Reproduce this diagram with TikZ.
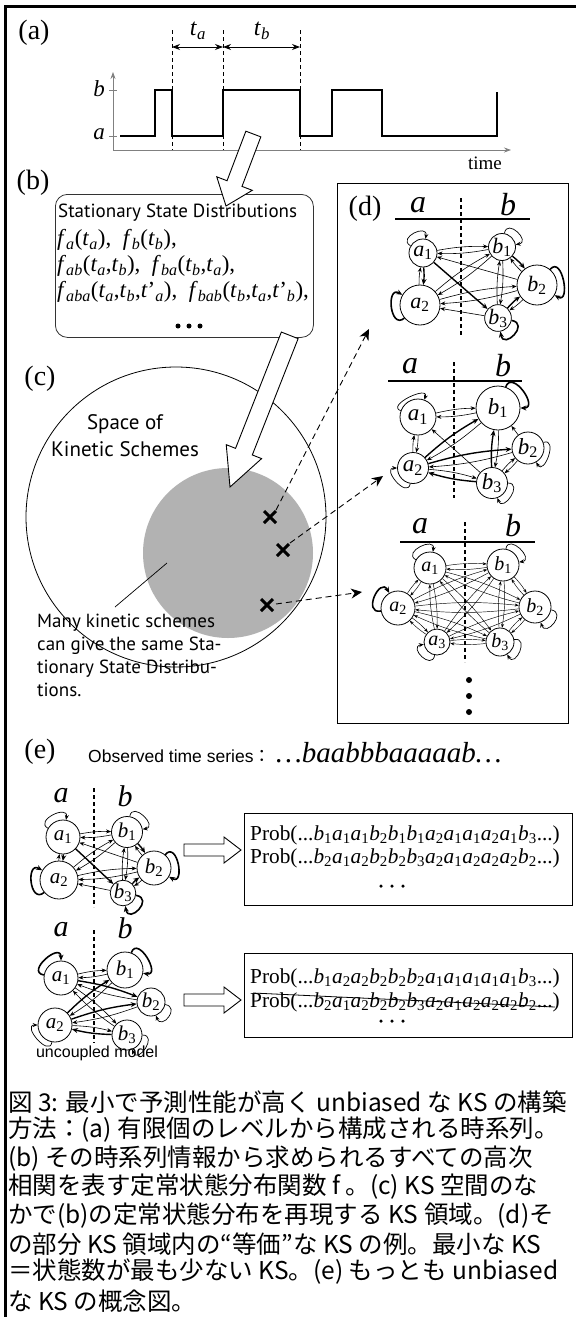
\documentclass[tikz,border=0pt]{standalone}
\usepackage{fontspec}
\setmainfont{Liberation Serif}
\newfontfamily\myr{PT Sans}
\newfontfamily\arial{Liberation Sans}
\newfontfamily\cjk{Noto Sans CJK JP}
\usetikzlibrary{arrows.meta}
\newcommand\fs[1]{\fontsize{#1}{#1}\selectfont}
\newcommand\Sn[2]{\textit{#1}\textsubscript{#2}}
\newcommand\Si[2]{\textit{#1}\textsubscript{\textit{#2}}}
\newcommand\Pair[4]{\draw[#3] (#1) to[bend left=6] (#2); \draw[#4] (#2) to[bend left=6] (#1);}
\newcommand\Barrow[7]{\begin{scope}[shift={(#1,#2)},rotate=#3]
 \draw[blk] (0,0) -- (-#7,#6) -- (-#7,#5) -- (-#4,#5) -- (-#4,-#5) -- (-#7,-#5) -- (-#7,-#6) -- cycle;
 \end{scope}}
\tikzset{
 st/.style={circle,draw,fill=white,inner sep=0pt,line width=0.8pt},
 ea/.style={-{Stealth[length=5pt,width=4pt]},line width=0.6pt},
 eb/.style={-{Stealth[length=6pt,width=5pt]},line width=1.4pt},
 ec/.style={-{Stealth[length=4pt,width=3pt]},line width=0.45pt},
 lp/.style={-{Stealth[length=5pt,width=4pt]},line width=0.7pt,min distance=16pt},
 lpb/.style={-{Stealth[length=6pt,width=5pt]},line width=1.6pt,min distance=19pt},
 dv/.style={line width=1.8pt,dash pattern=on 4pt off 3pt},
 ul/.style={line width=2.4pt},
 xm/.style={line width=3pt},
 da/.style={line width=0.9pt,dash pattern=on 6pt off 4pt,-{Stealth[length=11pt,width=10pt]}},
 blk/.style={draw,fill=white,line width=0.9pt,line join=miter},
 axis/.style={gray,line width=0.8pt,-{Stealth[length=7pt,width=5pt]}},
 dotn/.style={circle,fill,inner sep=0pt,minimum size=#1},
 lbl/.style={font=\fs{28}},
 captxt/.style={anchor=west,inner sep=0pt,font=\cjk\fs{24.5}},
 probtxt/.style={anchor=west,inner sep=0pt,font=\fs{21.3}},
}
\newcommand\NetOneEdges[1]{%
 \Pair{#1A1}{#1B1}{ea}{ea}
 \Pair{#1A1}{#1A2}{eb}{ea}
 \Pair{#1A2}{#1B1}{ea}{ea}
 \Pair{#1A2}{#1B2}{ea}{ea}
 \Pair{#1B1}{#1B3}{ea}{ea}
 \Pair{#1B1}{#1B2}{eb}{ea}
 \Pair{#1B2}{#1B3}{ea}{eb}
 \draw[eb] (#1A1) -- (#1B3);
 \draw[ea] (#1B2) -- (#1A1);
 \draw[ea] (#1B3) -- (#1A2);
 \draw[lp] (#1A1) to[out=150,in=80] (#1A1);
 \draw[lp] (#1B1) to[out=80,in=10] (#1B1);
 \draw[lpb] (#1B2) to[out=50,in=-30] (#1B2);
 \draw[lpb] (#1A2) to[out=-140,in=150] (#1A2);
 \draw[lpb] (#1B3) to[out=-10,in=-80] (#1B3);
}
\begin{document}
\begin{tikzpicture}[x=1pt,y=-1pt]
\useasboundingbox (0,0) rectangle (576,1317);
\fill[white] (0,0) rectangle (576,1317);
\draw[line width=3pt] (5,1317) -- (5,6) -- (576,6);

% ---------- (a)
\node[lbl] (la) at (34,33) {(a)};
\coordinate (o) at (113,150);
\coordinate (yt) at (113,72);
\coordinate (xt) at (511,150);
\draw[axis] (o) -- (yt);
\draw[axis] (o) -- (xt);
\draw[gray,line width=0.8pt] (109,90) -- (117,90) (109,136) -- (117,136);
\node[font=\fs{23}\itshape] (lvb) at (99,89) {b};
\node[font=\fs{23}\itshape] (lva) at (99,134) {a};
\node[font=\fs{19}] (ltime) at (485,163) {time};
\draw[line width=2.2pt] (120,136) -| (155,90) -| (172,136) -| (223,90) -| (300,136) -| (332,90) -| (382,136) -| (497,92);
\foreach \x in {172,223,300} \draw[line width=0.7pt,dash pattern=on 4pt off 3pt] (\x,30) -- (\x,150);
\coordinate (ta1) at (172,47); \coordinate (ta2) at (223,47); \coordinate (tb2) at (300,47);
\draw[{Stealth[length=8pt,width=6pt]}-{Stealth[length=8pt,width=6pt]},line width=1pt] (ta1) -- (ta2);
\draw[{Stealth[length=8pt,width=6pt]}-{Stealth[length=8pt,width=6pt]},line width=1pt] (ta2) -- (tb2);
\node[font=\fs{24}] (lta) at (198,31) {\Si ta};
\node[font=\fs{24}] (ltb) at (262,31) {\Si tb};

% ---------- (b)
\node[lbl] (lbb) at (33,183) {(b)};
\node[draw=black!80,line width=0.8pt,rounded corners=12pt,minimum width=258,minimum height=143,anchor=north west] (bbox) at (55,194) {};
\node[anchor=west,inner sep=0pt,font=\myr\fs{19}] (ssd) at (58,213) {Stationary State Distributions};
\begin{scope}[every node/.style={anchor=west,inner sep=0pt,font=\fs{23}}]
\node (f1) at (57,240) {\Si fa(\Si ta), \ \Si fb(\Si tb),};
\node (f2) at (57,266) {\Si f{ab}(\Si ta,\Si tb), \ \Si f{ba}(\Si tb,\Si ta),};
\node (f3) at (57,292) {\Si f{aba}(\Si ta,\Si tb,\textit{t}'\textsubscript{\textit{a}}), \ \Si f{bab}(\Si tb,\Si ta,\textit{t}'\textsubscript{\textit{b}}),};
\end{scope}
\foreach \x in {178,189,200} \node[dotn=5pt] at (\x,326) {};
\Barrow{226}{206}{249.2}{77}{8}{19}{24}

% ---------- (c)
\node[lbl] (lc) at (40,379) {(c)};
\draw[line width=0.8pt] (176,517) circle[radius=150];
\fill[black!30] (228,553) circle[radius=85];
\Barrow{230}{487}{248.5}{163}{9}{19}{38}
\node[align=center,font=\myr\fs{21},inner sep=0pt] (space) at (125,436) {Space of\\[6pt]Kinetic Schemes};
\node[align=left,anchor=north west,inner sep=0pt,font=\myr\fs{19}] (many) at (37,614) {Many kinetic schemes\\[4pt]can give the same Sta-\\[4pt]tionary State Distribu-\\[4pt]tions.};
\draw[line width=0.7pt] (167,563) -- (115,607);
\draw[xm] (264,511) -- (276,523) (264,523) -- (276,511);
\draw[xm] (277,544) -- (289,556) (277,556) -- (289,544);
\draw[xm] (261,599) -- (273,611) (261,611) -- (273,599);
\coordinate (s1) at (276,510); \coordinate (t1) at (369,329);
\coordinate (s2) at (290,543); \coordinate (t2) at (383,476);
\coordinate (s3) at (276,604); \coordinate (t3) at (362,592);
\draw[da] (s1) -- (t1);
\draw[da] (s2) -- (t2);
\draw[da] (s3) -- (t3);

% ---------- (d)
\node[draw,line width=1.2pt,minimum width=231,minimum height=540,anchor=north west] (dbox) at (337,183) {};
\node[lbl] (ld) at (365,209) {(d)};
% net 1
\node[font=\fs{32}\itshape] (d1a) at (418,205) {a};
\node[font=\fs{32}\itshape] (d1b) at (508,205) {b};
\draw[ul] (395,219) -- (530,219);
\draw[dv] (461,198) -- (461,335);
\begin{scope}[every node/.append style={font=\fs{22}}]
\node[st,minimum size=28] (d1A1) at (423,253) {\Sn a1};
\node[st,minimum size=27] (d1B1) at (502,247) {\Sn b1};
\node[st,minimum size=40] (d1B2) at (537,285) {\Sn b2};
\node[st,minimum size=40] (d1A2) at (420,305) {\Sn a2};
\node[st,minimum size=25] (d1B3) at (498,318) {\Sn b3};
\end{scope}
\NetOneEdges{d1}
% net 2
\node[font=\fs{32}\itshape] (d2a) at (410,366) {a};
\node[font=\fs{32}\itshape] (d2b) at (503,366) {b};
\draw[ul] (388,381) -- (522,381);
\draw[dv] (454,362) -- (454,498);
\begin{scope}[every node/.append style={font=\fs{23}}]
\node[st,minimum size=36] (d2A1) at (418,417) {\Sn a1};
\node[st,minimum size=44] (d2B1) at (498,408) {\Sn b1};
\node[st,minimum size=32] (d2B2) at (528,448) {\Sn b2};
\node[st,minimum size=31] (d2A2) at (413,468) {\Sn a2};
\node[st,minimum size=31] (d2B3) at (492,483) {\Sn b3};
\end{scope}
\Pair{d2A1}{d2B1}{ea}{ea}
\Pair{d2A1}{d2A2}{ea}{ea}
\draw[ea] (d2B3) -- (d2A1);
\Pair{d2A2}{d2B1}{eb}{ea}
\Pair{d2A2}{d2B2}{eb}{ea}
\Pair{d2A2}{d2B3}{ea}{eb}
\Pair{d2B1}{d2B3}{ea}{eb}
\draw[ea] (d2B2) -- (d2B1);
\Pair{d2B2}{d2B3}{ea}{ea}
\draw[lp] (d2A1) to[out=160,in=70] (d2A1);
\draw[lpb] (d2B1) to[out=70,in=0] (d2B1);
\draw[lp] (d2B2) to[out=20,in=-60] (d2B2);
\draw[lp] (d2A2) to[out=-100,in=180] (d2A2);
\draw[lp] (d2B3) to[out=0,in=-70] (d2B3);
% net 3
\node[font=\fs{32}\itshape] (d3a) at (420,526) {a};
\node[font=\fs{32}\itshape] (d3b) at (513,526) {b};
\draw[ul] (400,542) -- (535,542);
\draw[dv] (465,522) -- (465,662);
\begin{scope}[every node/.append style={font=\fs{20}}]
\node[st,minimum size=32] (d3A1) at (430,568) {\Sn a1};
\node[st,minimum size=32] (d3B1) at (503,565) {\Sn b1};
\node[st,minimum size=34] (d3A2) at (398,608) {\Sn a2};
\node[st,minimum size=32] (d3B2) at (535,607) {\Sn b2};
\node[st,minimum size=26] (d3A3) at (437,642) {\Sn a3};
\node[st,minimum size=28] (d3B3) at (500,642) {\Sn b3};
\end{scope}
\foreach \u/\v in {A1/B1,A1/A2,A1/B2,A1/A3,A1/B3,B1/A2,B1/B2,B1/A3,B1/B3,A2/B2,A2/A3,A2/B3,B2/A3,B2/B3,A3/B3} {\Pair{d3\u}{d3\v}{ec}{ec}}
\draw[lp] (d3A1) to[out=150,in=80] (d3A1);
\draw[lp] (d3B1) to[out=80,in=10] (d3B1);
\draw[lpb] (d3A2) to[out=190,in=120] (d3A2);
\draw[lp] (d3B2) to[out=-10,in=-70] (d3B2);
\draw[lp] (d3A3) to[out=-100,in=190] (d3A3);
\draw[lp] (d3B3) to[out=10,in=-60] (d3B3);
\node[dotn=6pt] (v1) at (469,680) {};
\node[dotn=6pt] (v2) at (469,696) {};
\node[dotn=6pt] (v3) at (469,712) {};

% ---------- (e)
\node[lbl] (le) at (40,752) {(e)};
\node[anchor=west,inner sep=0pt,font=\arial\fs{17.5}] (obs) at (88,756) {Observed time series{\cjk ：}};
\node[anchor=west,inner sep=0pt,font=\fs{29}\itshape] (seq) at (276,753) {…baabbbaaaaab…};
% e1 net
\node[font=\fs{30}\itshape] (e1a) at (61,796) {a};
\node[font=\fs{30}\itshape] (e1b) at (125,796) {b};
\draw[dv] (94,788) -- (94,907);
\begin{scope}[every node/.append style={font=\fs{21}}]
\node[st,minimum size=34] (e1A1) at (63,837) {\Sn a1};
\node[st,minimum size=31] (e1B1) at (127,832) {\Sn b1};
\node[st,minimum size=34] (e1B2) at (154,868) {\Sn b2};
\node[st,minimum size=38] (e1A2) at (59,880) {\Sn a2};
\node[st,minimum size=22] (e1B3) at (123,893) {\Sn b3};
\end{scope}
\NetOneEdges{e1}
\Barrow{241}{850}{0}{57}{6}{13}{17}
\node[draw,line width=0.9pt,minimum width=328,minimum height=92,anchor=north west] (pb1) at (244,813) {};
\node[probtxt] (p11) at (250,835) {Prob(...\Sn b1\Sn a1\Sn a1\Sn b2\Sn b1\Sn b1\Sn a2\Sn a1\Sn a1\Sn a2\Sn a1\Sn b3...)};
\node[probtxt] (p12) at (250,858) {Prob(...\Sn b2\Sn a1\Sn a2\Sn b2\Sn b2\Sn b3\Sn a2\Sn a1\Sn a2\Sn a2\Sn a2\Sn b2...)};
\foreach \x in {381,392,403} \node[dotn=3.5pt] at (\x,886) {};
% e2 net
\node[font=\fs{30}\itshape] (e2a) at (61,930) {a};
\node[font=\fs{30}\itshape] (e2b) at (125,928) {b};
\draw[dv] (94,930) -- (94,1043);
\begin{scope}[every node/.append style={font=\fs{21}}]
\node[st,minimum size=34] (e2A1) at (61,978) {\Sn a1};
\node[st,minimum size=36] (e2B1) at (125,970) {\Sn b1};
\node[st,minimum size=28] (e2B2) at (151,1002) {\Sn b2};
\node[st,minimum size=34] (e2A2) at (55,1025) {\Sn a2};
\node[st,minimum size=30] (e2B3) at (127,1035) {\Sn b3};
\end{scope}
\Pair{e2A1}{e2B1}{ea}{ea}
\Pair{e2A1}{e2B2}{eb}{ea}
\Pair{e2A1}{e2B3}{ea}{ea}
\Pair{e2A2}{e2B1}{eb}{ea}
\Pair{e2A2}{e2B2}{eb}{ea}
\Pair{e2A2}{e2B3}{ea}{eb}
\draw[lpb] (e2A1) to[out=170,in=90] (e2A1);
\draw[lpb] (e2B1) to[out=70,in=-10] (e2B1);
\draw[lp] (e2B2) to[out=-10,in=-70] (e2B2);
\draw[lp] (e2A2) to[out=-100,in=180] (e2A2);
\draw[lp] (e2B3) to[out=0,in=-70] (e2B3);
\node[font=\arial\fs{16}] (unc) at (97,1053) {uncoupled model};
\Barrow{241}{1000}{0}{57}{6}{13}{17}
\node[draw,line width=0.9pt,minimum width=328,minimum height=84,anchor=north west] (pb2) at (244,953) {};
\node[probtxt] (p21) at (250,978) {Prob(...\Sn b1\Sn a2\Sn a2\Sn b2\Sn b2\Sn b2\Sn a1\Sn a1\Sn a1\Sn a1\Sn a1\Sn b3...)};
\node[probtxt] (p22) at (250,1002) {Prob(...\Sn b2\Sn a1\Sn a2\Sn b2\Sn b2\Sn b3\Sn a2\Sn a1\Sn a2\Sn a2\Sn a2\Sn b2...)};
\draw[line width=0.8pt] (253,993) -- (555,1007);
\foreach \x in {381,392,403} \node[dotn=3.5pt] at (\x,1021) {};

% ---------- caption
\node[captxt] (c1) at (8,1102) {図 3: 最小で予測性能が高く unbiased な KS の構築};
\node[captxt] (c2) at (8,1130) {方法：(a) 有限個のレベルから構成される時系列。};
\node[captxt] (c3) at (8,1159) {(b) その時系列情報から求められるすべての高次};
\node[captxt] (c4) at (8,1187) {相関を表す定常状態分布関数 f 。(c) KS 空間のな};
\node[captxt] (c5) at (8,1216) {かで(b)の定常状態分布を再現する KS 領域。(d)そ};
\node[captxt] (c6) at (8,1244) {の部分 KS 領域内の“等価”な KS の例。最小な KS};
\node[captxt] (c7) at (8,1272) {＝状態数が最も少ない KS。(e) もっとも unbiased};
\node[captxt] (c8) at (8,1301) {な KS の概念図。};
\end{tikzpicture}
\end{document}
